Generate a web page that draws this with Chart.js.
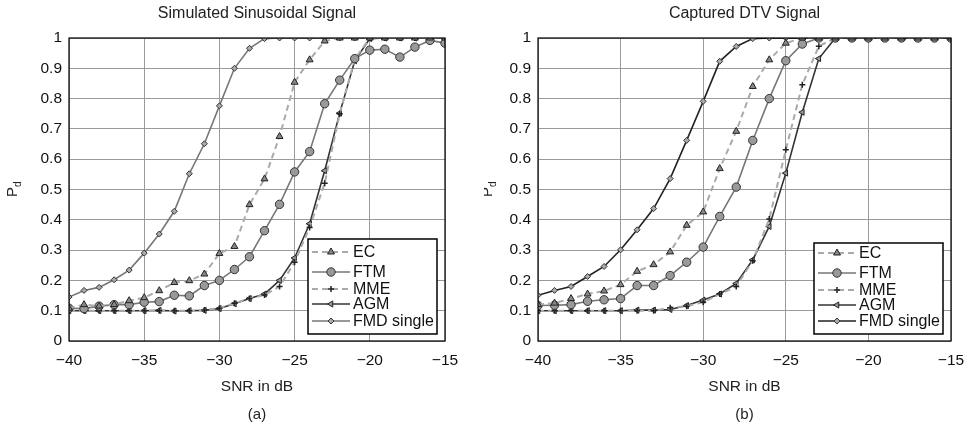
<!DOCTYPE html>
<html>
<head>
<meta charset="utf-8">
<script src="https://cdn.jsdelivr.net/npm/chart.js@4.4.1/dist/chart.umd.min.js"></script>
<style>
  html, body { margin: 0; padding: 0; background: #fff; }
  #wrap { position: relative; width: 968px; height: 428px; }
  canvas { position: absolute; top: 0; }
</style>
</head>
<body>
<div id="wrap">
  <canvas id="chartA" width="484" height="428" style="left:0"></canvas>
  <canvas id="chartB" width="484" height="428" style="left:484px"></canvas>
</div>
<script>
// SNR (dB) on the x axis
var snr = [-40, -39, -38, -37, -36, -35, -34, -33, -32, -31, -30, -29, -28,
           -27, -26, -25, -24, -23, -22, -21, -20, -19, -18, -17, -16, -15];
var xTicks = [-40, -35, -30, -25, -20, -15];
var yTicks = [0, 0.1, 0.2, 0.3, 0.4, 0.5, 0.6, 0.7, 0.8, 0.9, 1];
var seriesNames = ['EC', 'FTM', 'MME', 'AGM', 'FMD single'];

// (a) simulated sinusoidal signal
var ecA  = [0.108, 0.12, 0.115, 0.12, 0.133, 0.143, 0.166, 0.193, 0.199, 0.221, 0.289, 0.312, 0.45,
            0.535, 0.675, 0.854, 0.928, 0.99, 1, 1, 1, 1, 1, 1, 1, 1];
var ftmA = [0.108, 0.107, 0.115, 0.12, 0.12, 0.128, 0.13, 0.151, 0.149, 0.183, 0.2, 0.236, 0.278,
            0.364, 0.451, 0.558, 0.625, 0.783, 0.861, 0.932, 0.96, 0.963, 0.937, 0.97, 0.992, 0.983];
var mmeA = [0.1, 0.1, 0.1, 0.1, 0.1, 0.1, 0.1, 0.1, 0.1, 0.102, 0.108, 0.125, 0.14,
            0.152, 0.18, 0.26, 0.375, 0.521, 0.75, 0.93, 1, 1, 1, 1, 1, 1];
var agmA = [0.1, 0.1, 0.1, 0.1, 0.1, 0.1, 0.101, 0.099, 0.1, 0.101, 0.107, 0.123, 0.14,
            0.155, 0.2, 0.274, 0.387, 0.562, 0.752, 0.925, 0.998, 1, 1, 1, 1, 1];
var fmdA = [0.145, 0.167, 0.177, 0.202, 0.234, 0.29, 0.353, 0.428, 0.552, 0.651, 0.776, 0.9, 0.966,
            0.998, 1, 1, 1, 1, 1, 1, 1, 1, 1, 1, 1, 1];

// (b) captured DTV signal
var ecB  = [0.12, 0.125, 0.14, 0.155, 0.165, 0.186, 0.23, 0.252, 0.294, 0.382, 0.426, 0.569, 0.692,
            0.84, 0.928, 0.983, 1, 1, 1, 1, 1, 1, 1, 1, 1, 1];
var ftmB = [0.117, 0.118, 0.12, 0.131, 0.136, 0.14, 0.183, 0.183, 0.216, 0.26, 0.31, 0.411, 0.508,
            0.662, 0.8, 0.925, 0.98, 1, 1, 1, 1, 1, 1, 1, 1, 1];
var mmeB = [0.1, 0.1, 0.1, 0.1, 0.1, 0.1, 0.1, 0.1, 0.11, 0.115, 0.128, 0.155, 0.18,
            0.265, 0.403, 0.631, 0.846, 0.973, 1, 1, 1, 1, 1, 1, 1, 1];
var agmB = [0.1, 0.1, 0.1, 0.1, 0.1, 0.1, 0.102, 0.102, 0.104, 0.117, 0.135, 0.155, 0.19,
            0.268, 0.378, 0.554, 0.755, 0.932, 1, 1, 1, 1, 1, 1, 1, 1];
var fmdB = [0.151, 0.167, 0.18, 0.213, 0.246, 0.301, 0.367, 0.437, 0.536, 0.662, 0.791, 0.923, 0.972,
            0.998, 1, 1, 1, 1, 1, 1, 1, 1, 1, 1, 1, 1];

var FONT = '"Liberation Sans", Arial, Helvetica, sans-serif';

function pts(ys) {
  return snr.map(function (x, i) { return { x: x, y: ys[i] }; });
}

function makeSets(ec, ftm, mme, agm, fmd, fmdLine) {
  return [
    { label: seriesNames[0], data: pts(ec), borderColor: '#aaa', borderWidth: 2, borderDash: [6, 4],
      pointStyle: 'triangle', pointRadius: 4, pointBackgroundColor: '#888', pointBorderColor: '#222', pointBorderWidth: 1 },
    { label: seriesNames[1], data: pts(ftm), borderColor: '#777', borderWidth: 1.6,
      pointStyle: 'circle', pointRadius: 4.2, pointBackgroundColor: '#999', pointBorderColor: '#333', pointBorderWidth: 1 },
    { label: seriesNames[2], data: pts(mme), borderColor: '#aaa', borderWidth: 2, borderDash: [6, 4],
      pointStyle: 'crossRot', pointRotation: 45, pointRadius: 3, pointBorderColor: '#222', pointBorderWidth: 1.5 },
    { label: seriesNames[3], data: pts(agm), borderColor: '#333', borderWidth: 1.6,
      pointStyle: 'triangle', pointRotation: -90, pointRadius: 3.5, pointBackgroundColor: '#999', pointBorderColor: '#222', pointBorderWidth: 1 },
    { label: seriesNames[4], data: pts(fmd), borderColor: fmdLine, borderWidth: 1.6,
      pointStyle: 'rectRot', pointRadius: 3, pointBackgroundColor: '#aaa', pointBorderColor: '#333', pointBorderWidth: 1 }
  ];
}

// frame, legend box, subscript label and panel caption
var decor = {
  id: 'decor',
  afterDraw: function (chart, args, o) {
    var ctx = chart.ctx, a = chart.chartArea;
    ctx.save();
    ctx.strokeStyle = '#000';
    ctx.lineWidth = 1.2;
    ctx.strokeRect(a.left, a.top, a.right - a.left, a.bottom - a.top);

    ctx.fillStyle = '#222';
    ctx.textAlign = 'center';
    ctx.textBaseline = 'middle';
    ctx.font = '16px ' + FONT;
    ctx.fillText(o.title, (a.left + a.right) / 2, 14);
    ctx.font = '15px ' + FONT;
    ctx.fillText(o.caption, (a.left + a.right) / 2, 415);

    // P_d
    ctx.save();
    ctx.translate(o.pdX, 190);
    ctx.rotate(-Math.PI / 2);
    ctx.font = '15px ' + FONT;
    ctx.textAlign = 'left';
    ctx.fillText('P', -7, 0);
    ctx.font = '10px ' + FONT;
    ctx.fillText('d', 3, 5);
    ctx.restore();

    // legend
    var bw = 129, bh = o.legendH;
    var bx = a.right - 8 - bw, by = a.bottom - 7 - bh;
    ctx.fillStyle = '#fff';
    ctx.fillRect(bx, by, bw, bh);
    ctx.lineWidth = 1.5;
    ctx.strokeStyle = '#000';
    ctx.strokeRect(bx, by, bw, bh);
    chart.data.datasets.forEach(function (ds, i) {
      var y = by + o.rows[i];
      ctx.save();
      ctx.strokeStyle = ds.borderColor;
      ctx.lineWidth = ds.borderWidth;
      ctx.setLineDash(ds.borderDash || []);
      ctx.beginPath();
      ctx.moveTo(bx + 4, y);
      ctx.lineTo(bx + 42, y);
      ctx.stroke();
      ctx.setLineDash([]);
      ctx.fillStyle = ds.pointBackgroundColor || ds.pointBorderColor;
      ctx.strokeStyle = ds.pointBorderColor;
      ctx.lineWidth = ds.pointBorderWidth;
      Chart.helpers.drawPoint(ctx, {
        pointStyle: ds.pointStyle, radius: ds.pointRadius, rotation: ds.pointRotation || 0, borderWidth: ds.pointBorderWidth
      }, bx + 23, y);
      ctx.restore();
      ctx.fillStyle = '#111';
      ctx.font = '16px ' + FONT;
      ctx.textAlign = 'left';
      ctx.textBaseline = 'middle';
      ctx.fillText(ds.label, bx + 45, y + 1);
    });
    ctx.restore();
  }
};

function makeChart(id, sets, yW, padR, o) {
  return new Chart(document.getElementById(id), {
    type: 'line',
    data: { datasets: sets },
    plugins: [decor],
    options: {
      responsive: false,
      animation: false,
      layout: { padding: { left: 0, right: padR, top: 38, bottom: 0 } },
      elements: { line: { tension: 0, fill: false } },
      plugins: { legend: { display: false }, tooltip: { enabled: false }, decor: o },
      scales: {
        x: {
          type: 'linear', min: -40, max: -15,
          afterFit: function (s) { s.height = 87; s.paddingLeft = 0; s.paddingRight = 0; },
          afterBuildTicks: function (s) { s.ticks = xTicks.map(function (v) { return { value: v }; }); },
          grid: { color: '#9a9a9a', lineWidth: 1, drawTicks: false },
          border: { display: false },
          ticks: {
            padding: 10, color: '#111', font: { family: FONT, size: 15.5 }, maxRotation: 0,
            callback: function (v) { return v < 0 ? '\u2212' + Math.abs(v) : String(v); }
          },
          title: { display: true, text: 'SNR in dB', color: '#222', font: { family: FONT, size: 15.5 }, padding: { top: 0, bottom: 32 } }
        },
        y: {
          min: 0, max: 1,
          afterFit: function (s) { s.width = yW; s.paddingTop = 0; s.paddingBottom = 0; },
          afterBuildTicks: function (s) { s.ticks = yTicks.map(function (v) { return { value: v }; }); },
          grid: { color: '#9a9a9a', lineWidth: 1, drawTicks: false },
          border: { display: false },
          ticks: {
            padding: 7, color: '#111', font: { family: FONT, size: 15.5 },
            callback: function (v) { return String(Number(v.toFixed(1))); }
          }
        }
      }
    }
  });
}

makeChart('chartA', makeSets(ecA, ftmA, mmeA, agmA, fmdA, '#777'), 69, 39,
  { title: 'Simulated Sinusoidal Signal', caption: '(a)', pdX: 13,
    legendH: 95, rows: [13, 33, 50, 65, 82] });
makeChart('chartB', makeSets(ecB, ftmB, mmeB, agmB, fmdB, '#222'), 54, 17,
  { title: 'Captured DTV Signal', caption: '(b)', pdX: 4,
    legendH: 91, rows: [10, 30, 47, 62, 78] });
</script>
</body>
</html>
